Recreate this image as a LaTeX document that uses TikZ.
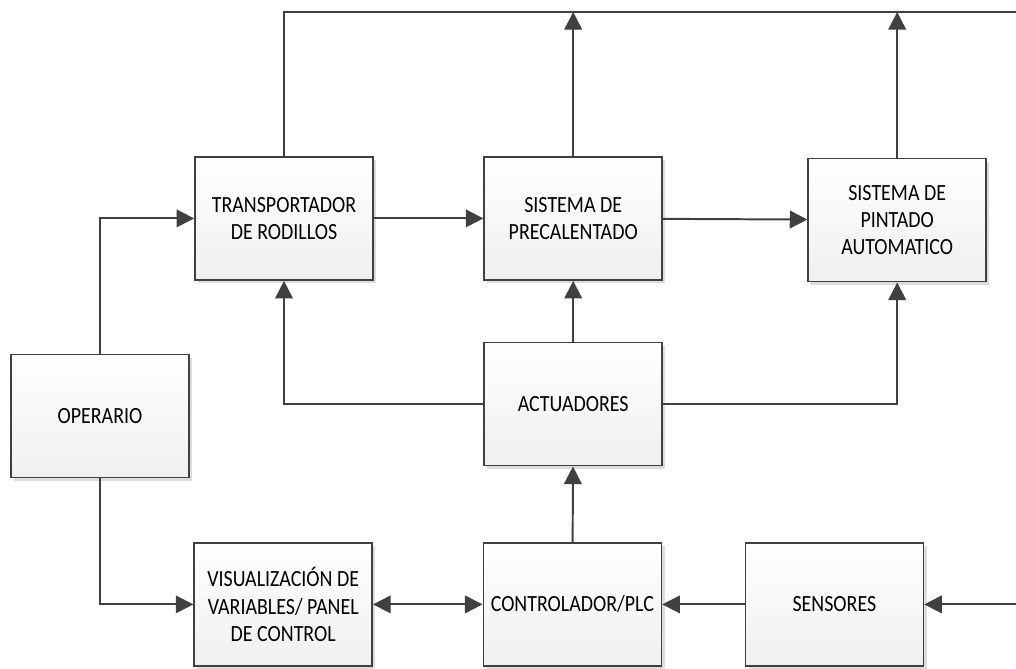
\documentclass[tikz,border=0pt]{standalone}
\usepackage{fontspec}
\setmainfont[FakeStretch=0.86]{Carlito}
\usetikzlibrary{arrows.meta,shadows}

\definecolor{linegray}{HTML}{404040}
\def\boxw{4.45cm}
\def\boxh{3.08cm}

\begin{document}
\begin{tikzpicture}[>={Triangle[length=0.44cm,width=0.44cm]}, ->, draw=linegray, line width=1.4pt]
		\tikzstyle{block}
		=[rectangle, draw=linegray, line width=1.2pt, top color=white, bottom color=black!6,
		minimum width=\boxw, minimum height=\boxh, align=center,
		font=\fontsize{16.5}{19.5}\selectfont,
		drop shadow={shadow xshift=0.08cm, shadow yshift=-0.08cm, fill=black!30, opacity=0.45}]
		
		\useasboundingbox (0,0) rectangle (25.4,-16.7);
		
		% Draw the blocks
		\node[block] (ope) at (2.5,-10.4) {OPERARIO};
		\node[block] (trans) at (7.1,-5.46) {TRANSPORTADOR\\DE RODILLOS};
		\node[block] (prec) at (14.33,-5.46) {SISTEMA DE\\PRECALENTADO};
		\node[block] (pint) at (22.43,-5.5) {SISTEMA DE\\PINTADO\\AUTOMATICO};
		\node[block] (act) at (14.33,-10.1) {ACTUADORES};
		\node[block] (visu) at (7.08,-15.11) {VISUALIZACIÓN DE\\VARIABLES/ PANEL\\DE CONTROL};
		\node[block] (plc) at (14.31,-15.11) {CONTROLADOR/PLC};
		\node[block] (sens) at (20.86,-15.11) {SENSORES};
		
		% Free ends at the right border
		\coordinate (top-r) at (25.4,-0.3);
		\coordinate (sens-in) at (25.4,-15.11);
		
		% Top line
		\draw[-] (trans.north) |- (top-r);
		\draw (prec.north) -- (prec.north |- top-r);
		\draw (pint.north) -- (pint.north |- top-r);
		
		% Process line
		\draw (ope.north) |- (trans.west);
		\draw (trans) -- (prec);
		\draw (prec) -- (pint);
		
		% Actuators
		\draw (act.west) -| (trans.south);
		\draw (act) -- (prec);
		\draw (act.east) -| (pint.south);
		
		% Control loop
		\draw (ope.south) |- (visu.west);
		\draw[<->] (visu) -- (plc);
		\draw (plc) -- (act);
		\draw (sens) -- (plc);
		\draw (sens-in) -- (sens.east);
	\end{tikzpicture}
\end{document}
